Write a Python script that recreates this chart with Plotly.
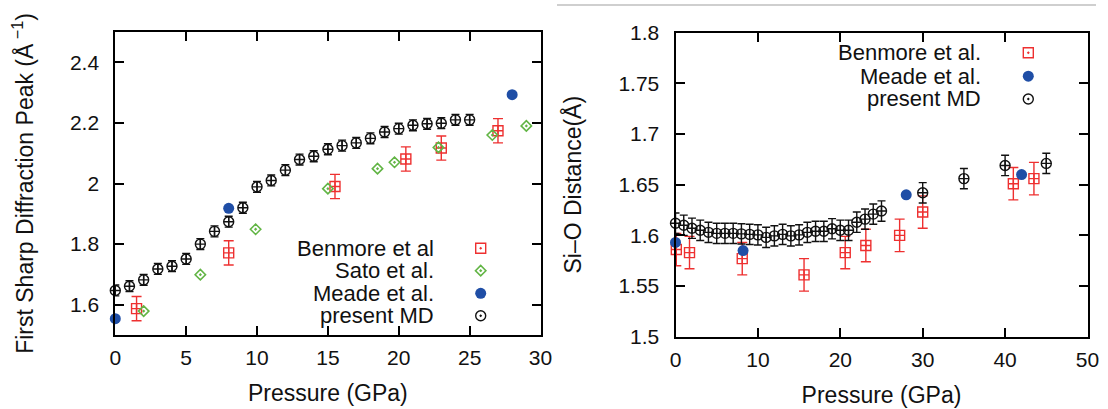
import plotly.graph_objects as go

# ---------------- data ----------------
# Left panel: First Sharp Diffraction Peak vs pressure
md_p_left = [0, 1, 2, 3, 4, 5, 6, 7, 8, 9, 10, 11, 12, 13, 14, 15, 16, 17, 18,
             19, 20, 21, 22, 23, 24, 25]
md_fsdp = [1.647, 1.661, 1.682, 1.718, 1.727, 1.751, 1.800, 1.842, 1.874, 1.920,
           1.989, 2.010, 2.044, 2.079, 2.090, 2.113, 2.125, 2.134, 2.149, 2.170,
           2.181, 2.192, 2.197, 2.199, 2.210, 2.210]
md_fsdp_err = 0.018

benmore_p_left = [1.5, 8.0, 15.5, 20.5, 23.0, 27.0]
benmore_fsdp = [1.587, 1.771, 1.990, 2.081, 2.117, 2.174]
benmore_fsdp_err = 0.04

sato_p = [2.0, 6.0, 9.9, 15.0, 18.5, 19.7, 22.8, 26.6, 29.0]
sato_fsdp = [1.579, 1.699, 1.849, 1.983, 2.049, 2.070, 2.119, 2.160, 2.190]

meade_p_left = [0, 8, 28]
meade_fsdp = [1.554, 1.918, 2.293]

# Right panel: Si-O distance vs pressure
md_p_right = [0, 1, 2, 3, 4, 5, 6, 7, 8, 9, 10, 11, 12, 13, 14, 15, 16, 17, 18,
              19, 20, 21, 22, 23, 24, 25, 30, 35, 40, 45]
md_sio = [1.612, 1.610, 1.607, 1.605, 1.603, 1.602, 1.602, 1.602, 1.6015, 1.601,
          1.6005, 1.598, 1.5995, 1.601, 1.5995, 1.6005, 1.603, 1.604, 1.604, 1.6065,
          1.605, 1.605, 1.613, 1.616, 1.621, 1.624, 1.642, 1.656, 1.669, 1.671]
md_sio_err = 0.01

benmore_p_right = [0.1, 1.7, 8.1, 15.6, 20.6, 23.1, 27.2, 30.0, 41.0, 43.5]
benmore_sio = [1.586, 1.583, 1.577, 1.561, 1.583, 1.590, 1.600, 1.623, 1.651, 1.656]
benmore_sio_err = 0.016

meade_p_right = [0, 8.2, 28, 42]
meade_sio = [1.593, 1.585, 1.640, 1.660]

left_yticks = [1.6, 1.8, 2.0, 2.2, 2.4]
left_ytick_text = ["1.6", "1.8", "2", "2.2", "2.4"]
left_xticks = [0, 5, 10, 15, 20, 25, 30]
right_yticks = [1.5, 1.55, 1.6, 1.65, 1.7, 1.75, 1.8]
right_ytick_text = ["1.5", "1.55", "1.6", "1.65", "1.7", "1.75", "1.8"]
right_xticks = [0, 10, 20, 30, 40, 50]

left_legend = ["Benmore et al", "Sato et al.", "Meade et al.", "present MD"]
right_legend = ["Benmore et al.", "Meade et al.", "present MD"]

# ---------------- styles ----------------
W, H = 1108, 409
FONT = "Liberation Sans, Arial, Helvetica, sans-serif"
RED = "#ee3030"
GREEN = "#62b545"
BLUE = "#1f4ea6"
BLACK = "#111111"


def px_x(v):
    return v / W


def px_y(v):
    return 1 - v / H


fig = go.Figure()


def err(value, color, width):
    return dict(type="constant", value=value, color=color, thickness=1.4,
                width=width, visible=True)


# Left panel traces
fig.add_trace(go.Scatter(x=benmore_p_left, y=benmore_fsdp, mode="markers",
                         marker=dict(symbol="square-cross-open", size=10,
                                     color=RED, line=dict(color=RED, width=1.4)),
                         error_y=err(benmore_fsdp_err, RED, 5),
                         cliponaxis=False, xaxis="x", yaxis="y", showlegend=False))
fig.add_trace(go.Scatter(x=sato_p, y=sato_fsdp, mode="markers",
                         marker=dict(symbol="diamond-open-dot", size=8,
                                     color=GREEN, line=dict(color=GREEN, width=1.6)),
                         cliponaxis=False, xaxis="x", yaxis="y", showlegend=False))
fig.add_trace(go.Scatter(x=meade_p_left, y=meade_fsdp, mode="markers",
                         marker=dict(symbol="circle", size=11, color=BLUE),
                         cliponaxis=False, xaxis="x", yaxis="y", showlegend=False))
fig.add_trace(go.Scatter(x=md_p_left, y=md_fsdp, mode="markers",
                         marker=dict(symbol="circle-cross-open", size=10,
                                     color=BLACK, line=dict(color=BLACK, width=1.4)),
                         error_y=err(md_fsdp_err, BLACK, 4),
                         cliponaxis=False, xaxis="x", yaxis="y", showlegend=False))

# Right panel traces
fig.add_trace(go.Scatter(x=benmore_p_right, y=benmore_sio, mode="markers",
                         marker=dict(symbol="square-cross-open", size=10,
                                     color=RED, line=dict(color=RED, width=1.4)),
                         error_y=err(benmore_sio_err, RED, 5),
                         cliponaxis=False, xaxis="x2", yaxis="y2", showlegend=False))
fig.add_trace(go.Scatter(x=meade_p_right, y=meade_sio, mode="markers",
                         marker=dict(symbol="circle", size=11, color=BLUE),
                         cliponaxis=False, xaxis="x2", yaxis="y2", showlegend=False))
fig.add_trace(go.Scatter(x=md_p_right, y=md_sio, mode="markers",
                         marker=dict(symbol="circle-cross-open", size=10,
                                     color=BLACK, line=dict(color=BLACK, width=1.4)),
                         error_y=err(md_sio_err, BLACK, 4),
                         cliponaxis=False, xaxis="x2", yaxis="y2", showlegend=False))

# ---------------- manual legends (text right-aligned, key on the right) ----------------
left_key_styles = [
    dict(symbol="square-open-dot", size=10, color=RED, line=dict(color=RED, width=1.4)),
    dict(symbol="diamond-open-dot", size=8, color=GREEN, line=dict(color=GREEN, width=1.6)),
    dict(symbol="circle", size=11, color=BLUE),
    dict(symbol="circle-open-dot", size=10, color=BLACK, line=dict(color=BLACK, width=1.4)),
]
right_key_styles = [left_key_styles[0], left_key_styles[2], left_key_styles[3]]

left_rows = [248.3, 270.7, 293.3, 315.7]
right_rows = [52.7, 76.2, 99.0]
annotations = []
for label, row, st in zip(left_legend, left_rows, left_key_styles):
    annotations.append(dict(text=label, x=px_x(436), y=px_y(row), xref="paper", yref="paper",
                            xanchor="right", yanchor="middle", showarrow=False,
                            font=dict(family=FONT, size=22, color="#111")))
    fig.add_trace(go.Scatter(x=[480.7], y=[row], mode="markers", marker=st,
                             xaxis="x3", yaxis="y3", showlegend=False, cliponaxis=False))
for label, row, st in zip(right_legend, right_rows, right_key_styles):
    annotations.append(dict(text=label, x=px_x(983), y=px_y(row), xref="paper", yref="paper",
                            xanchor="right", yanchor="middle", showarrow=False,
                            font=dict(family=FONT, size=22, color="#111")))
    fig.add_trace(go.Scatter(x=[1028.3], y=[row], mode="markers", marker=st,
                             xaxis="x3", yaxis="y3", showlegend=False, cliponaxis=False))

axis_common = dict(showline=True, linecolor="black", linewidth=2, mirror="ticks",
                   ticks="inside", ticklen=9, tickwidth=1.5, tickcolor="black",
                   showgrid=False, zeroline=False, automargin=False,
                   tickfont=dict(family=FONT, size=21, color="#111"))

fig.update_layout(
    template="none",
    width=W, height=H,
    margin=dict(l=0, r=0, t=0, b=0, autoexpand=False),
    paper_bgcolor="white", plot_bgcolor="rgba(0,0,0,0)",
    showlegend=False,
    font=dict(family=FONT, color="#111"),
    xaxis=dict(domain=[px_x(115.3), px_x(540.5)], range=[0, 30], tickvals=left_xticks,
               anchor="y", ticklabelstandoff=3,
               title=dict(text="Pressure (GPa)", font=dict(family=FONT, size=23), standoff=17),
               **axis_common),
    yaxis=dict(domain=[px_y(335), px_y(32)], range=[1.5, 2.5], tickvals=left_yticks,
               ticktext=left_ytick_text, anchor="x", ticklabelstandoff=10,
               title=dict(text="First Sharp Diffraction Peak (Å<sup> −1</sup>)",
                          font=dict(family=FONT, size=23), standoff=30),
               **axis_common),
    xaxis2=dict(domain=[px_x(675.5), px_x(1087.5)], range=[0, 50], tickvals=right_xticks,
                anchor="y2", ticklabelstandoff=3,
                title=dict(text="Pressure (GPa)", font=dict(family=FONT, size=23), standoff=17),
                **axis_common),
    yaxis2=dict(domain=[px_y(336.7), px_y(32.7)], range=[1.5, 1.8], tickvals=right_yticks,
                ticktext=right_ytick_text, anchor="x2", ticklabelstandoff=10,
                title=dict(text="Si–O Distance(Å)", font=dict(family=FONT, size=23), standoff=30),
                **axis_common),
    xaxis3=dict(domain=[0, 1], range=[0, W], visible=False, anchor="y3",
                fixedrange=True, automargin=False),
    yaxis3=dict(domain=[0, 1], range=[H, 0], visible=False, anchor="x3",
                fixedrange=True, automargin=False),
    annotations=annotations,
    shapes=[dict(type="line", xref="paper", yref="paper", x0=px_x(557), x1=px_x(1096),
                 y0=px_y(5), y1=px_y(5), line=dict(color="#cfcfcf", width=2))],
)

fig.write_html("out.html")
